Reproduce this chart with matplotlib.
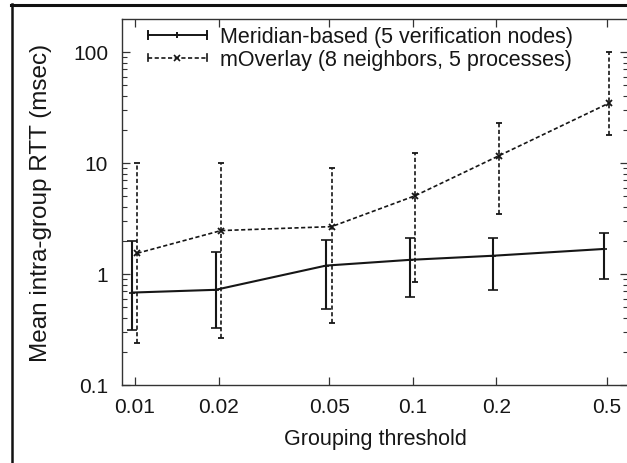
import matplotlib
matplotlib.use("Agg")
import matplotlib.pyplot as plt
from matplotlib.lines import Line2D
from matplotlib.ticker import FixedLocator, FixedFormatter, LogLocator, NullLocator, NullFormatter

plt.rcParams['font.family'] = ['Liberation Sans', 'DejaVu Sans']

# grouping thresholds
thresholds = [0.01, 0.02, 0.05, 0.1, 0.2, 0.5]
xtick_labels = ["0.01", "0.02", "0.05", "0.1", "0.2", "0.5"]

# Meridian-based (5 verification nodes)
meridian_mean = [0.68, 0.72, 1.19, 1.34, 1.46, 1.68]
meridian_low = [0.31, 0.325, 0.48, 0.62, 0.72, 0.91]
meridian_high = [2.0, 1.59, 2.02, 2.11, 2.11, 2.34]

# mOverlay (8 neighbors, 5 processes)
moverlay_mean = [1.54, 2.46, 2.67, 5.07, 11.6, 34.7]
moverlay_low = [0.238, 0.263, 0.36, 0.85, 3.49, 17.9]
moverlay_high = [9.9, 9.9, 9.0, 12.2, 22.9, 100.0]

ytick_vals = [0.1, 1, 10, 100]
ytick_labels = ["0.1", "1", "10", "100"]

INK = "#161616"


class CapLineHandler:
    # gnuplot style legend key: line with end caps and a marker in the middle
    def __init__(self, ls, marker, ms, lw, cap):
        self.ls = ls
        self.marker = marker
        self.ms = ms
        self.lw = lw
        self.cap = cap

    def legend_artist(self, legend, orig_handle, fontsize, handlebox):
        x0, y0 = handlebox.xdescent, handlebox.ydescent
        w, h = handlebox.width, handlebox.height
        ym = y0 + h / 2
        tr = handlebox.get_transform()
        arts = [
            Line2D([x0, x0 + w], [ym, ym], ls=self.ls, lw=self.lw, color=INK, transform=tr),
            Line2D([x0, x0], [ym - self.cap, ym + self.cap], lw=self.lw, color=INK, transform=tr),
            Line2D([x0 + w, x0 + w], [ym - self.cap, ym + self.cap], lw=self.lw, color=INK, transform=tr),
            Line2D([x0 + w / 2], [ym], ls="none", marker=self.marker, ms=self.ms,
                   mew=self.lw, color=INK, transform=tr),
        ]
        for a in arts:
            handlebox.add_artist(a)
        return arts[0]


fig = plt.figure(figsize=(6.27, 4.64), dpi=100)
ax = fig.add_axes([122 / 627, 78 / 464, 506 / 627, 366 / 464])

left_shift = 0.975
right_shift = 1.021

x_mer = [t * left_shift for t in thresholds]
x_mov = [t * right_shift for t in thresholds]

err_mer = [[m - lo for m, lo in zip(meridian_mean, meridian_low)],
           [hi - m for m, hi in zip(meridian_mean, meridian_high)]]
err_mov = [[m - lo for m, lo in zip(moverlay_mean, moverlay_low)],
           [hi - m for m, hi in zip(moverlay_mean, moverlay_high)]]

ax.errorbar(x_mer, meridian_mean, yerr=err_mer, color=INK, lw=1.5, elinewidth=1.5,
            capsize=3.5, capthick=1.5, marker="+", ms=4, mew=1.2)

eb = ax.errorbar(x_mov, moverlay_mean, yerr=err_mov, color=INK, lw=1.2, elinewidth=1.2,
                 capsize=2.0, capthick=1.2, marker="x", ms=5, mew=1.3,
                 dashes=(2.5, 1.5))
eb[2][0].set_linestyle((0, (2.5, 1.5)))

ax.set_xscale("log")
ax.set_yscale("log")
ax.set_xlim(0.00898, 0.596)
ax.set_ylim(0.1, 198)

ax.xaxis.set_major_locator(FixedLocator(thresholds))
ax.xaxis.set_major_formatter(FixedFormatter(xtick_labels))
ax.xaxis.set_minor_locator(NullLocator())
ax.xaxis.set_minor_formatter(NullFormatter())
ax.yaxis.set_major_locator(FixedLocator(ytick_vals))
ax.yaxis.set_major_formatter(FixedFormatter(ytick_labels))
ax.yaxis.set_minor_locator(LogLocator(base=10, subs=range(2, 10)))
ax.yaxis.set_minor_formatter(NullFormatter())

ax.tick_params(which="both", direction="in", top=True, right=True, color="#333333",
               labelsize=15, labelcolor=INK)
ax.tick_params(axis="x", which="major", length=6, width=0.9, pad=9)
ax.tick_params(axis="y", which="major", length=6, width=0.9, pad=10)
ax.tick_params(axis="y", which="minor", length=3.5, width=0.8)
for s in ax.spines.values():
    s.set_linewidth(1.0)
    s.set_color("#333333")

ax.set_xlabel("Grouping threshold", fontsize=15.5, color=INK, labelpad=8)
ax.set_ylabel("Mean intra-group RTT (msec)", fontsize=17.5, color=INK, labelpad=15)

h1 = Line2D([], [])
h2 = Line2D([], [])
ax.legend([h1, h2],
          ["Meridian-based (5 verification nodes)", "mOverlay (8 neighbors, 5 processes)"],
          handler_map={h1: CapLineHandler("-", "+", 4, 1.4, 3),
                       h2: CapLineHandler((0, (2.5, 1.5)), "x", 4, 1.2, 2.5)},
          loc="upper left", bbox_to_anchor=(0.051, 0.98), borderaxespad=0, borderpad=0,
          frameon=False, fontsize=15.5, handlelength=2.74, handletextpad=0.6,
          labelspacing=0.1, labelcolor=INK)

# figure frame (top and left rules)
fig.add_artist(Line2D([11 / 627, 1.0], [1 - 6 / 464, 1 - 6 / 464], lw=2.2, color="#111111"))
fig.add_artist(Line2D([12 / 627, 12 / 627], [0, 1 - 5 / 464], lw=1.8, color="#111111"))

fig.savefig("out.png", dpi=100)
